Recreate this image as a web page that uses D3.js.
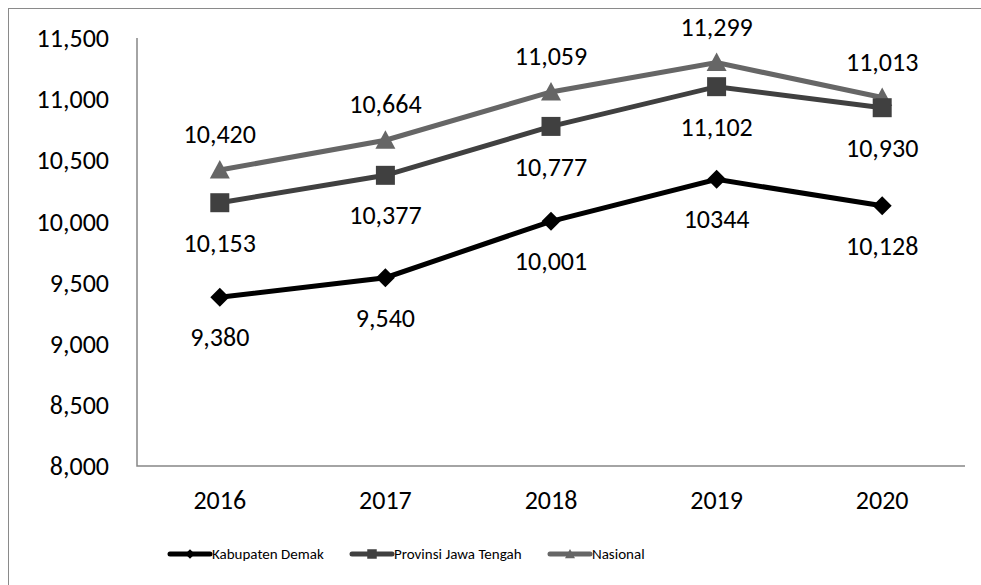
<!DOCTYPE html>
<html>
<head>
<meta charset="utf-8">
<script src="https://cdn.jsdelivr.net/npm/d3@7"></script>
<style>
  body { margin: 0; background: #fff; }
  text { font-family: Carlito, "Open Sans", "Noto Sans", sans-serif; fill: #000; }
</style>
</head>
<body>
<div id="chart"></div>
<script>
var years = ["2016", "2017", "2018", "2019", "2020"];
var demak = [9380, 9540, 10001, 10344, 10128];
var jateng = [10153, 10377, 10777, 11102, 10930];
var nasional = [10420, 10664, 11059, 11299, 11013];
var demakLabels = ["9,380", "9,540", "10,001", "10344", "10,128"];
var jatengLabels = ["10,153", "10,377", "10,777", "11,102", "10,930"];
var nasionalLabels = ["10,420", "10,664", "11,059", "11,299", "11,013"];
var yTicks = [8000, 8500, 9000, 9500, 10000, 10500, 11000, 11500];

// marker shapes, w = full width in px
var diamond = {draw: function(ctx, w) {
    var r = w / 2;
    ctx.moveTo(0, -r); ctx.lineTo(r, 0); ctx.lineTo(0, r); ctx.lineTo(-r, 0); ctx.closePath();
}};
var square = {draw: function(ctx, w) {
    var r = w / 2;
    ctx.rect(-r, -r, w, w);
}};
var triangle = {draw: function(ctx, w) {
    var r = w / 2;
    ctx.moveTo(0, -r); ctx.lineTo(r, r * 0.85); ctx.lineTo(-r, r * 0.85); ctx.closePath();
}};

var series = [
    {name: "Kabupaten Demak", values: demak, labels: demakLabels, color: "#000000", symbol: diamond, size: 19, dy: 40},
    {name: "Provinsi Jawa Tengah", values: jateng, labels: jatengLabels, color: "#404040", symbol: square, size: 19, dy: 40},
    {name: "Nasional", values: nasional, labels: nasionalLabels, color: "#666666", symbol: triangle, size: 20, dy: -36}
];

var width = 981, height = 585;
var margin = {top: 38, right: 16, bottom: 119, left: 137};

var svg = d3.select("#chart").append("svg")
    .attr("width", width)
    .attr("height", height);

// chart frame
svg.append("rect")
    .attr("x", 8.5).attr("y", 8.5)
    .attr("width", 1000).attr("height", 1000)
    .attr("fill", "none")
    .attr("stroke", "#8a8a8a")
    .attr("stroke-width", 1);

var x = d3.scaleBand()
    .domain(years)
    .range([margin.left, width - margin.right]);

var y = d3.scaleLinear()
    .domain([8000, 11500])
    .range([height - margin.bottom, margin.top]);

// axes lines
svg.append("path")
    .attr("d", "M" + margin.left + "," + y(11500) + " V" + y(8000) + " H" + (width - margin.right))
    .attr("fill", "none")
    .attr("stroke", "#868686")
    .attr("stroke-width", 1.5);

svg.selectAll(".ytick")
    .data(yTicks)
    .enter().append("text")
    .attr("class", "ytick")
    .attr("x", 109)
    .attr("y", function(d) { return y(d); })
    .attr("dy", "0.35em")
    .attr("text-anchor", "end")
    .style("font-size", "26px")
    .text(d3.format(","));

svg.selectAll(".xtick")
    .data(years)
    .enter().append("text")
    .attr("class", "xtick")
    .attr("x", function(d) { return x(d) + x.bandwidth() / 2; })
    .attr("y", 500)
    .attr("dy", "0.35em")
    .attr("text-anchor", "middle")
    .style("font-size", "26px")
    .text(function(d) { return d; });

var line = d3.line()
    .x(function(d, i) { return x(years[i]) + x.bandwidth() / 2; })
    .y(function(d) { return y(d); });

// draw back to front so Demak stays on top
series.slice().reverse().forEach(function(s) {
    var g = svg.append("g");
    g.append("path")
        .attr("d", line(s.values))
        .attr("fill", "none")
        .attr("stroke", s.color)
        .attr("stroke-width", 5);

    g.selectAll(".mark")
        .data(s.values)
        .enter().append("path")
        .attr("transform", function(d, i) {
            return "translate(" + (x(years[i]) + x.bandwidth() / 2) + "," + y(d) + ")";
        })
        .attr("d", d3.symbol().type(s.symbol).size(s.size))
        .attr("fill", s.color);

    g.selectAll(".lbl")
        .data(s.values)
        .enter().append("text")
        .attr("x", function(d, i) { return x(years[i]) + x.bandwidth() / 2; })
        .attr("y", function(d) { return y(d) + s.dy; })
        .attr("dy", "0.35em")
        .attr("text-anchor", "middle")
        .style("font-size", "26px")
        .text(function(d, i) { return s.labels[i]; });
});

// legend
var legendX = [170, 352, 550];
var legend = svg.selectAll(".legend")
    .data(series)
    .enter().append("g")
    .attr("transform", function(d, i) { return "translate(" + legendX[i] + ",554)"; });

legend.append("line")
    .attr("x1", 0).attr("x2", 40)
    .attr("stroke", function(d) { return d.color; })
    .attr("stroke-width", 5)
    .attr("stroke-linecap", "round");

legend.append("path")
    .attr("transform", "translate(20,0)")
    .attr("d", function(d) { return d3.symbol().type(d.symbol).size(d.size * 0.5)(); })
    .attr("fill", function(d) { return d.color; });

legend.append("text")
    .attr("x", 42)
    .attr("dy", "0.35em")
    .style("font-size", "15px")
    .text(function(d) { return d.name; });
</script>
</body>
</html>
